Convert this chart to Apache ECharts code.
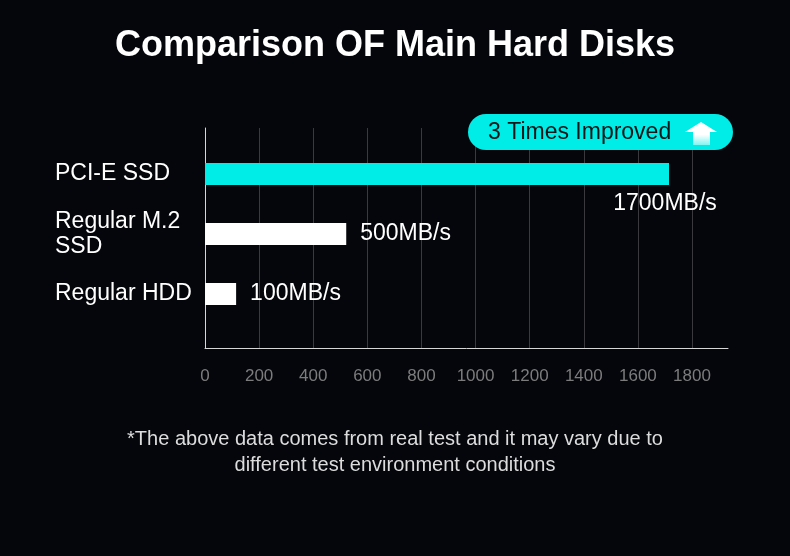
<!DOCTYPE html>
<html>
<head>
<meta charset="utf-8">
<title>Comparison OF Main Hard Disks</title>
<script src="https://cdn.jsdelivr.net/npm/echarts@6/dist/echarts.min.js"></script>
<style>
    html, body { margin: 0; padding: 0; background: #05060b; }
    #main { width: 790px; height: 556px; }
</style>
</head>
<body>
<div id="main"></div>
<script>
// disk types, top to bottom
const categories = ['PCI-E SSD', 'Regular M.2\nSSD', 'Regular HDD']
// bar lengths (MB/s)
const speeds = [1715, 522, 115]
const speedLabels = ['1700MB/s', '500MB/s', '100MB/s']
const barColors = ['#00ece6', '#ffffff', '#ffffff']
const axisMin = 0
const axisMax = 1933
const axisStep = 200

const FONT = 'Liberation Sans, Arial, sans-serif'
const CYAN = '#00ece6'

let myChart = echarts.init(document.getElementById('main'))

let barData = speeds.map((v, i) => {
    let item = {
        value: v,
        itemStyle: { color: barColors[i] },
        label: { formatter: speedLabels[i] }
    }
    // the fast one gets its label under the bar end
    if (i === 0) {
        item.label.position = ['100%', '100%']
        item.label.align = 'center'
        item.label.verticalAlign = 'top'
        item.label.offset = [-4, 7]
    }
    return item
})

let option = {
    backgroundColor: '#05060b',
    animation: false,
    title: {
        text: 'Comparison OF Main Hard Disks',
        left: 'center',
        top: 23,
        textStyle: {
            color: '#ffffff',
            fontFamily: FONT,
            fontSize: 36,
            fontWeight: 'bold'
        }
    },
    grid: [
        // frame: gridlines, axes and tick labels
        { left: 205, right: 62, top: 128, bottom: 208 },
        // bars
        { left: 205, right: 62, top: 144, bottom: 232 }
    ],
    xAxis: [
        {
            gridIndex: 0,
            type: 'value',
            min: axisMin,
            max: axisMax,
            interval: axisStep,
            axisLine: { show: true, lineStyle: { color: '#d6d6d6', width: 1 } },
            axisTick: { show: false },
            axisLabel: {
                color: '#7c7c7c',
                fontFamily: FONT,
                fontSize: 17,
                margin: 20,
                showMaxLabel: false,
                formatter: v => String(v)
            },
            splitLine: {
                show: true,
                showMinLine: false,
                showMaxLine: false,
                lineStyle: { color: '#3a3a3e', width: 1 }
            }
        },
        {
            gridIndex: 1,
            type: 'value',
            min: axisMin,
            max: axisMax,
            show: false
        }
    ],
    yAxis: [
        {
            gridIndex: 0,
            type: 'value',
            min: 0,
            max: 1,
            axisLine: { show: true, lineStyle: { color: '#d6d6d6', width: 1 } },
            axisTick: { show: false },
            axisLabel: { show: false },
            splitLine: { show: false }
        },
        {
            gridIndex: 1,
            type: 'category',
            inverse: true,
            data: categories,
            axisLine: { show: false },
            axisTick: { show: false },
            splitLine: { show: false },
            axisLabel: {
                align: 'left',
                margin: 150,
                color: '#ffffff',
                fontFamily: FONT,
                fontSize: 23,
                lineHeight: 25
            }
        }
    ],
    series: [{
        type: 'bar',
        xAxisIndex: 1,
        yAxisIndex: 1,
        barWidth: 22,
        data: barData,
        label: {
            show: true,
            position: 'right',
            distance: 14,
            color: '#ffffff',
            fontFamily: FONT,
            fontSize: 23
        }
    }],
    graphic: [
        {
            type: 'group',
            left: 468,
            top: 114,
            zlevel: 1,
            children: [
                {
                    type: 'rect',
                    z: 100,
                    shape: { x: 0, y: 0, width: 265, height: 36, r: 18 },
                    style: { fill: CYAN }
                },
                {
                    type: 'text',
                    z: 101,
                    x: 20,
                    y: 19,
                    style: {
                        text: '3 Times Improved',
                        fill: '#0b1718',
                        font: '23px ' + FONT,
                        textVerticalAlign: 'middle'
                    }
                },
                {
                    type: 'polygon',
                    z: 101,
                    shape: {
                        points: [[233, 8], [249, 18], [242, 18], [242, 31], [225, 31], [225, 18], [217, 18]]
                    },
                    style: {
                        fill: new echarts.graphic.LinearGradient(0, 0, 0, 1, [
                            { offset: 0, color: '#ffffff' },
                            { offset: 0.55, color: '#ffffff' },
                            { offset: 1, color: '#7ff5f2' }
                        ])
                    }
                }
            ]
        },
        {
            type: 'text',
            x: 395,
            y: 426,
            style: {
                text: '*The above data comes from real test and it may vary due to\ndifferent test environment conditions',
                fill: '#dcdcdc',
                font: '20px ' + FONT,
                lineHeight: 26,
                textAlign: 'center'
            }
        }
    ]
}

myChart.setOption(option)
</script>
</body>
</html>
